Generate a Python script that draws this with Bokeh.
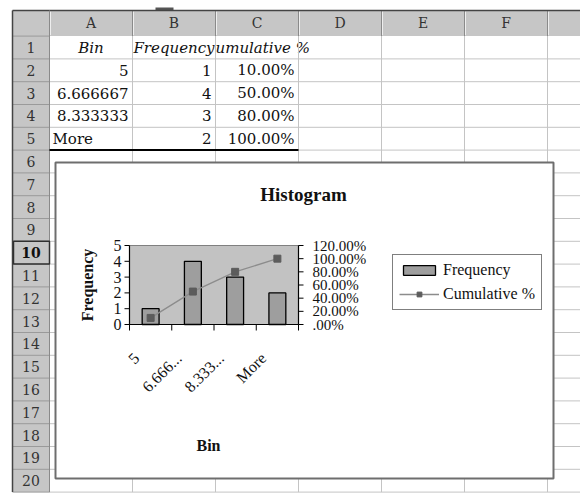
import math
from bokeh.plotting import figure
from bokeh.models import Range1d, Legend, LegendItem
from bokeh.core.properties import value
from bokeh.embed import file_html
from bokeh.resources import INLINE

# ---------------- data ----------------
bins = ["5", "6.666667", "8.333333", "More"]
bin_tick_labels = ["5", "6.666...", "8.333...", "More"]
frequency = [1, 4, 3, 2]
cumulative_pct = [10.0, 50.0, 80.0, 100.0]
freq_ticks = [0, 1, 2, 3, 4, 5]
pct_ticks = [0, 20, 40, 60, 80, 100, 120]
pct_tick_labels = [".00%", "20.00%", "40.00%", "60.00%", "80.00%", "100.00%", "120.00%"]
header_cells = ["Bin", "Frequency", "Cumulative %"]
col_letters = ["A", "B", "C", "D", "E", "F"]
row_numbers = list(range(1, 21))
chart_title = "Histogram"
x_title = "Bin"
y_title = "Frequency"

# ---------------- canvas (reference pixel coordinates) ----------------
W, H = 580, 495
OX, OY = 0, 0
p = figure(width=W, height=H, x_range=Range1d(OX, OX + W), y_range=Range1d(OY + H, OY),
           output_backend="svg", toolbar_location=None, x_axis_type=None, y_axis_type=None,
           min_border=0, outline_line_color=None, background_fill_color="white",
           border_fill_color="white")

CELL_FONT = value("DejaVu Serif")
CHART_FONT = value("Liberation Serif")

# sheet geometry
left_edge, rh_right, col_w = 12, 49, 83
hdr_top, hdr_bot, row_h = 10, 35.6, 22.8
col_bounds = [rh_right + col_w * k for k in range(8)]
row_bounds = [hdr_bot + row_h * k for k in range(21)]
col_centers = [(col_bounds[k] + col_bounds[k + 1]) / 2 for k in range(len(col_letters))]
row_centers = [(row_bounds[k] + row_bounds[k + 1]) / 2 for k in range(20)]
right_end = 600

# header backgrounds
p.quad(left=[left_edge], right=[right_end], top=[hdr_top], bottom=[hdr_bot],
       fill_color="#c6c6c6", line_color=None)
p.quad(left=[left_edge], right=[rh_right], top=[hdr_bot], bottom=[row_bounds[-1]],
       fill_color="#c6c6c6", line_color=None)
# little dark mark on the top edge
p.quad(left=[155], right=[173], top=[7], bottom=[10], fill_color="#555555", line_color=None)

# cell texts: C1 first, then mask B1 so the overflow is clipped, then the rest
p.text(x=[col_centers[2]], y=[row_centers[0]], text=[header_cells[2]], text_align="center",
       text_baseline="middle", text_font=CELL_FONT, text_font_size="15px",
       text_font_style="italic", text_color="#111111")
p.quad(left=[col_bounds[1] + 0.5], right=[col_bounds[2] - 0.5], top=[row_bounds[0] + 0.5],
       bottom=[row_bounds[1] - 0.5], fill_color="white", line_color=None)
p.text(x=col_centers[:2], y=[row_centers[0]] * 2, text=header_cells[:2], text_align="center",
       text_baseline="middle", text_font=CELL_FONT, text_font_size="15px",
       text_font_style="italic", text_color="#111111")

# gridlines
p.segment(x0=[rh_right] * 20, x1=[right_end] * 20, y0=row_bounds[1:], y1=row_bounds[1:],
          line_color="#c4c4c4", line_width=1)
p.segment(x0=col_bounds, x1=col_bounds, y0=[hdr_bot] * 8, y1=[row_bounds[-1]] * 8,
          line_color="#c4c4c4", line_width=1)

# header separators
p.segment(x0=col_bounds, x1=col_bounds, y0=[hdr_top] * 8, y1=[hdr_bot] * 8,
          line_color="#8a8a8a", line_width=1)
p.segment(x0=[c + 1 for c in col_bounds], x1=[c + 1 for c in col_bounds], y0=[hdr_top + 1] * 8,
          y1=[hdr_bot - 1] * 8, line_color="#eeeeee", line_width=1)
p.segment(x0=[left_edge] * 21, x1=[rh_right] * 21, y0=[hdr_bot] + row_bounds[1:],
          y1=[hdr_bot] + row_bounds[1:], line_color="#9a9a9a", line_width=1)
p.segment(x0=[left_edge, left_edge], x1=[left_edge, right_end], y0=[hdr_top, hdr_top],
          y1=[row_bounds[-1], hdr_top], line_color="#444444", line_width=1.5)
p.segment(x0=[rh_right], x1=[rh_right], y0=[hdr_top], y1=[row_bounds[-1]],
          line_color="#8a8a8a", line_width=1)

# header labels
p.text(x=col_centers, y=[(hdr_top + hdr_bot) / 2] * len(col_letters), text=col_letters,
       text_align="center", text_baseline="middle", text_font=CELL_FONT,
       text_font_size="14px", text_color="#333333")
rn_txt = [str(r) for r in row_numbers]
normal_rows = [i for i in range(20) if row_numbers[i] != 10]
p.text(x=[(left_edge + rh_right) / 2] * len(normal_rows), y=[row_centers[i] for i in normal_rows],
       text=[rn_txt[i] for i in normal_rows], text_align="center", text_baseline="middle",
       text_font=CELL_FONT, text_font_size="14px", text_color="#333333")
sel = row_numbers.index(10)
p.quad(left=[left_edge + 1], right=[rh_right], top=[row_bounds[sel]], bottom=[row_bounds[sel + 1]],
       fill_color=None, line_color="#303030", line_width=1.5)
p.text(x=[(left_edge + rh_right) / 2], y=[row_centers[sel]], text=[rn_txt[sel]],
       text_align="center", text_baseline="middle", text_font=CELL_FONT,
       text_font_size="14px", text_font_style="bold", text_color="#111111")

# data cells (rows 2..5)
pad = 4
a_right = [b for b in bins if b != "More"]
a_right_rows = [row_centers[1 + i] for i, b in enumerate(bins) if b != "More"]
p.text(x=[col_bounds[1] - pad] * len(a_right), y=a_right_rows, text=a_right,
       text_align="right", text_baseline="middle", text_font=CELL_FONT,
       text_font_size="15px", text_color="#111111")
a_left = [b for b in bins if b == "More"]
a_left_rows = [row_centers[1 + i] for i, b in enumerate(bins) if b == "More"]
p.text(x=[col_bounds[0] + 3] * len(a_left), y=a_left_rows, text=a_left,
       text_align="left", text_baseline="middle", text_font=CELL_FONT,
       text_font_size="15px", text_color="#111111")
p.text(x=[col_bounds[2] - pad] * len(frequency), y=row_centers[1:1 + len(frequency)],
       text=[str(f) for f in frequency], text_align="right", text_baseline="middle",
       text_font=CELL_FONT, text_font_size="15px", text_color="#111111")
p.text(x=[col_bounds[3] - pad] * len(cumulative_pct), y=row_centers[1:1 + len(cumulative_pct)],
       text=["%.2f%%" % c for c in cumulative_pct], text_align="right", text_baseline="middle",
       text_font=CELL_FONT, text_font_size="15px", text_color="#111111")
last = 1 + len(bins)
p.segment(x0=[col_bounds[0]], x1=[col_bounds[3]], y0=[row_bounds[last]], y1=[row_bounds[last]],
          line_color="black", line_width=2)

# ---------------- embedded chart ----------------
p.quad(left=[55], right=[553], top=[162], bottom=[478], fill_color="white",
       line_color="#6e6e6e", line_width=2)

L, R, T, B = 129, 298, 245, 324
ncat = len(bins)
cw = (R - L) / ncat
fmax = max(freq_ticks)
pmax = max(pct_ticks)
fu = (B - T) / fmax
pu = (B - T) / pmax
p.extra_x_ranges = {"cat": Range1d((OX - L) / cw - 0.5, (OX + W - L) / cw - 0.5)}
p.extra_y_ranges = {"freq": Range1d((B - (OY + H)) / fu, (B - OY) / fu),
                    "pct": Range1d((B - (OY + H)) / pu, (B - OY) / pu)}
idx = list(range(ncat))

# plot area
p.quad(left=[-0.5], right=[ncat - 0.5], bottom=[0], top=[fmax], x_range_name="cat",
       y_range_name="freq", fill_color="#c2c2c2", line_color="#808080", line_width=1)

bars = p.vbar(x=idx, top=frequency, bottom=0, width=0.4, x_range_name="cat", y_range_name="freq",
              fill_color="#9e9e9e", line_color="black", line_width=1.3)
cum_line = p.line(x=idx, y=cumulative_pct, x_range_name="cat", y_range_name="pct",
                  line_color="#8c8c8c", line_width=1.3)
cum_pts = p.scatter(x=idx, y=cumulative_pct, x_range_name="cat", y_range_name="pct",
                    marker="square", size=7, fill_color="#5c5c5c", line_color="#5c5c5c")

# axes lines
p.segment(x0=[-0.5, ncat - 0.5, -0.5], x1=[-0.5, ncat - 0.5, ncat - 0.5], y0=[0, 0, 0],
          y1=[fmax, fmax, 0], x_range_name="cat", y_range_name="freq",
          line_color="black", line_width=1.2)
# left ticks + labels
p.segment(x0=[L - 5] * len(freq_ticks), x1=[L] * len(freq_ticks), y0=freq_ticks, y1=freq_ticks,
          y_range_name="freq", line_color="black", line_width=1)
p.text(x=[L - 8] * len(freq_ticks), y=freq_ticks, text=[str(t) for t in freq_ticks],
       y_range_name="freq", text_align="right", text_baseline="middle", text_font=CHART_FONT,
       text_font_size="16px", text_color="#111111")
# right ticks + labels
p.segment(x0=[R] * len(pct_ticks), x1=[R + 5] * len(pct_ticks), y0=pct_ticks, y1=pct_ticks,
          y_range_name="pct", line_color="black", line_width=1)
p.text(x=[R + 14] * len(pct_ticks), y=pct_ticks, text=pct_tick_labels, y_range_name="pct",
       text_align="left", text_baseline="middle", text_font=CHART_FONT,
       text_font_size="15px", text_color="#111111")
# bottom ticks + rotated labels
bnd = [i - 0.5 for i in range(ncat + 1)]
p.segment(x0=bnd, x1=bnd, y0=[B] * len(bnd), y1=[B + 6] * len(bnd), x_range_name="cat",
          line_color="black", line_width=1)
p.text(x=idx, y=[B] * ncat, text=bin_tick_labels, x_range_name="cat", angle=math.pi / 4,
       x_offset=-14, y_offset=31, text_align="right", text_baseline="middle",
       text_font=CHART_FONT, text_font_size="16px", text_color="#111111")

# titles
p.text(x=[303], y=[194], text=[chart_title], text_align="center", text_baseline="middle",
       text_font=CHART_FONT, text_font_size="19px", text_font_style="bold", text_color="#111111")
p.text(x=[87], y=[(T + B) / 2], text=[y_title], angle=math.pi / 2, text_align="center",
       text_baseline="middle", text_font=CHART_FONT, text_font_size="16px",
       text_font_style="bold", text_color="#111111")
p.text(x=[208], y=[445], text=[x_title], text_align="center", text_baseline="middle",
       text_font=CHART_FONT, text_font_size="16px", text_font_style="bold", text_color="#111111")

legend = Legend(items=[LegendItem(label="Frequency", renderers=[bars]),
                       LegendItem(label="Cumulative %", renderers=[cum_line, cum_pts])],
                location=(392 - OX, OY + H - 310), orientation="vertical",
                border_line_color="black", border_line_width=1, background_fill_color="white",
                background_fill_alpha=1.0, label_text_font="Liberation Serif",
                label_text_font_size="16px", label_text_color="#111111", glyph_width=40,
                glyph_height=12, label_height=17, padding=6, spacing=6, label_standoff=4,
                margin=0)
p.add_layout(legend)

open("out.html", "w").write(file_html(p, INLINE))
